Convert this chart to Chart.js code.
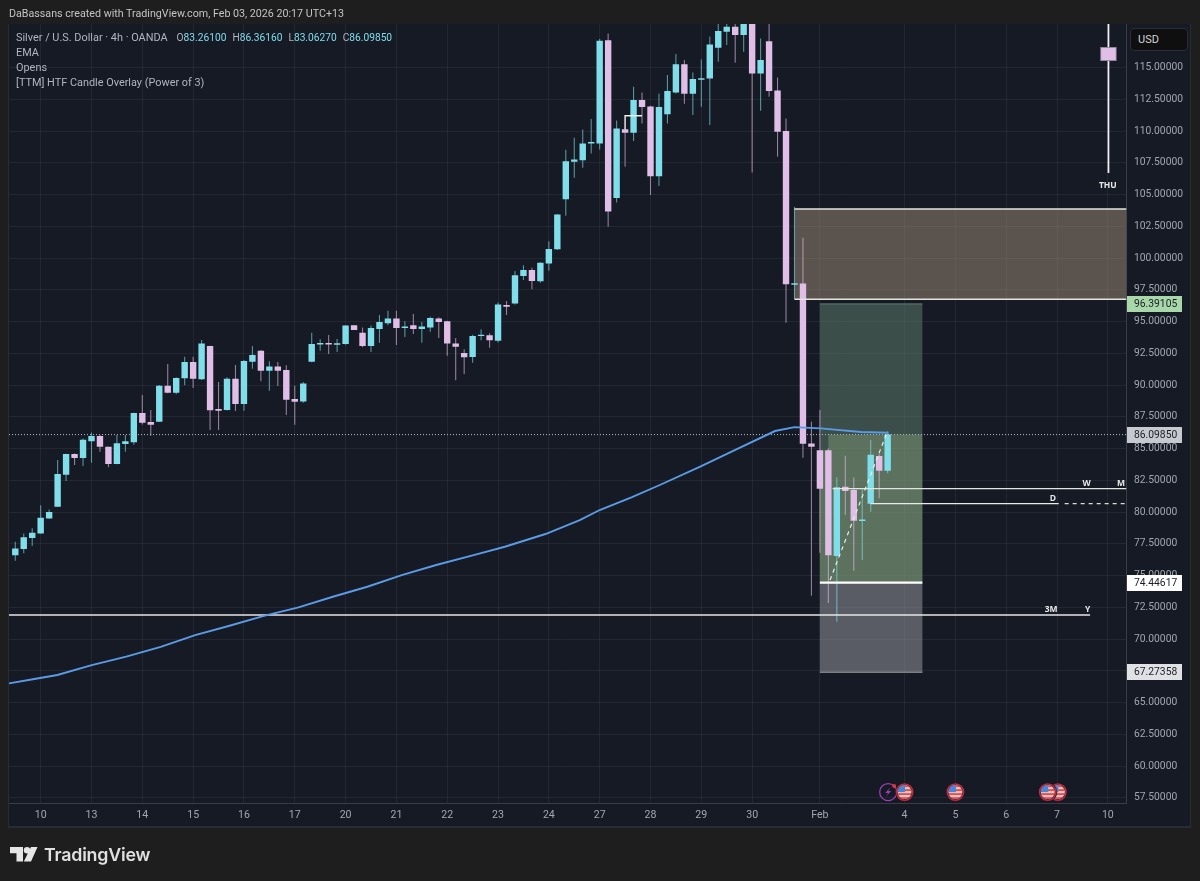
<!DOCTYPE html>
<html><head><meta charset="utf-8">
<style>
html,body{margin:0;padding:0;background:#1e1e1e;width:1200px;height:881px;overflow:hidden}
#wrap{position:relative;width:1200px;height:881px}
canvas{position:absolute;left:0;top:0}
.t{position:absolute;white-space:nowrap;font-family:Roboto,sans-serif;line-height:14px}
.leg{font-size:10.9px;color:#b2b5be;left:16px}
.leg b{font-weight:400;color:#80deea}
.leg span{font-size:10.2px;margin-left:6px}
.leg span.first{margin-left:9px}
#usd{position:absolute;left:1130px;top:28px;width:56px;height:21px;background:#0f0f0f;border:1px solid #2a2e39;border-radius:4px;box-sizing:content-box;color:#d1d4dc;font:11px Roboto,sans-serif;line-height:21px;text-indent:7px}
</style></head><body><div id="wrap">
<canvas id="c" width="1200" height="881"></canvas>
<div class="t" style="left:9px;top:7px;font-size:10.7px;color:#c4c4c4">DaBassans created with TradingView.com, Feb 03, 2026 20:17 UTC+13</div>
<div class="t leg" style="top:31px">Silver / U.S. Dollar · 4h · OANDA<span class="first">O<b>83.26100</b></span><span>H<b>86.36160</b></span><span>L<b>83.06270</b></span><span>C<b>86.09850</b></span></div>
<div class="t leg" style="top:46px">EMA</div>
<div class="t leg" style="top:61px">Opens</div>
<div class="t leg" style="top:76px">[TTM] HTF Candle Overlay (Power of 3)</div>
<div id="usd">USD</div>
<svg style="position:absolute;left:10px;top:847px" width="28" height="15" viewBox="0 0 28 15"><path fill="#e6e6e6" d="M0 0H13V14.5H6.5V6.2H0Z"/><circle fill="#e6e6e6" cx="17" cy="3.3" r="3.2"/><path fill="#e6e6e6" d="M21 0H27.5L21 14.5H13.8Z"/></svg>
<div class="t" style="left:44px;top:845px;font:600 17.8px/20px Inter,sans-serif;color:#e0e0e0;letter-spacing:-.2px">TradingView</div>
</div>
<script src="https://cdn.jsdelivr.net/npm/chart.js@4/dist/chart.umd.js"></script>
<script>
const candleOpen=[76.59,77.09,77.95,78.32,79.5,80.42,82.94,84.57,84.25,85.57,85.99,85.15,83.78,85.36,85.49,87.8,87.09,87.12,89.95,89.4,90.53,91.81,90.45,93.07,88.11,88.03,90.5,88.51,91.84,92.71,91.13,91.47,91.18,88.9,88.7,91.84,93.2,93.28,93.18,93.23,94.7,94.12,93.07,94.41,94.86,95.25,94.49,94.7,94.41,94.54,95.25,95.02,93.28,92.52,92.21,93.86,93.92,93.49,96.3,96.43,98.59,99.06,98.17,99.58,100.69,104.64,107.58,107.71,109.03,109.03,117.16,104.72,110.15,109.86,112.44,111.94,106.45,111.33,113.04,115.27,112.94,114.04,114.14,116.56,117.82,118.21,117.56,119.5,114.54,117.08,113.2,110,97.9,98,85.4,84.86,84.86,76.54,82,81.73,79.3,80.65,84.41,83.26];
const candleHigh=[77.67,78.32,78.72,80.53,80.21,84.1,84.6,84.62,85.8,86.27,86.06,85.15,86.06,86.06,87.82,89.21,88.03,90,91.66,90.61,92.23,92.23,93.55,93.1,90.24,90.61,91.58,91.97,93.07,92.76,91.87,91.81,91.55,89.95,90.25,94.12,93.6,93.94,93.62,94.7,94.7,94.54,94.68,95.51,95.86,95.86,95.02,95.59,94.96,95.38,95.33,95.07,93.7,92.81,93.97,94.39,94.07,96.51,96.62,98.98,99.43,99.24,99.66,101.32,103.44,108.53,109.47,110.13,110.94,117.24,117.69,110.84,110.2,113.49,113.04,111.99,112.96,114.41,116.06,115.59,114.62,115.64,117.45,118.8,118.8,118.6,119.2,119.8,117.29,118.9,114.22,110.99,104.02,101.6,87.11,88.03,85,82.73,84.44,82.73,81.8,85.67,84.6,86.36];
const candleLow=[76.17,76.75,77.32,78.32,79.48,80.4,82.44,83.7,83.62,83.89,84.75,83.52,83.76,84.75,85.3,86.9,86.01,87.09,89.35,89.27,89.98,89.77,90.4,86.46,86.46,88,87.95,87.98,91.29,90.29,89.56,89.92,87.64,86.88,88.6,91.79,92.71,92.44,92.6,93.18,94.33,92.97,92.6,93.34,94.7,93.15,93.78,94.02,93.34,94.2,93.7,92.31,90.37,90.87,91.76,93.52,92.94,93.36,95.51,96.35,98.27,97.54,98.06,99.01,100.63,103.33,106.32,107.11,108.24,108.55,102.46,104.38,107.19,109.21,110.6,104.96,105.67,110.6,112.96,112.15,111.26,111.91,110.47,115.46,116.77,115.38,116.24,106.74,111.6,112.7,107.98,94.91,96.77,84.28,73.41,76.8,72.83,71.36,79.76,75.38,76.22,80.03,81.08,83.06];
const candleClose=[77.12,78.01,78.37,79.56,80,82.99,84.57,84.25,85.7,85.99,85.15,83.78,85.41,85.57,87.8,87.04,86.88,89.95,89.4,90.55,91.81,90.5,93.28,88.01,87.98,90.5,88.51,91.89,92.36,91.13,91.47,91.13,88.85,88.69,90.13,93.23,93.28,93.2,93.28,94.68,94.33,93.07,94.49,94.96,95.25,94.49,94.62,94.41,94.62,95.28,94.96,93.28,93.02,92.18,93.86,93.97,93.52,96.35,96.17,98.64,99.06,98.19,99.63,100.71,103.42,107.63,107.77,109.03,109.13,117.11,103.67,110.21,109.86,112.44,111.89,106.45,111.89,113.15,115.27,112.94,114.09,114.14,116.82,117.87,118.21,117.56,118.9,114.54,115.59,113.15,109.94,97.93,98,85.38,85.14,81.84,76.59,81.95,81.65,79.32,79.4,84.52,83.25,86.1];
const emaIndex=[-0.74,2.25,4.97,9.03,13.1,17.17,21.24,25.3,29.36,33.44,37.5,41.57,45.63,49.7,54.45,57.8,62.6,66.65,69,72.75,76.1,80.87,84.95,89.7,92,95.1,99.85,103.1];
const emaValue=[66.51,66.85,67.17,67.95,68.61,69.39,70.31,71.05,71.83,72.5,73.33,74.12,75.04,75.83,76.67,77.27,78.27,79.37,80.16,81.16,82.13,83.57,84.88,86.38,86.69,86.59,86.3,86.24];
const xTickValues=[3,9,15,21,27,33,39,45,51,57,63,69,75,81,87,95,105,111,117,123,129];
const xTickLabels=['10','13','14','15','16','17','20','21','22','23','24','27','28','29','30','Feb','4','5','6','7','10'];
const xMin=-0.74,xMax=131.2,yMin=57.09,yMax=118.43;
const lastPrice=86.0985,targetPrice=96.39105,entryPrice=74.44617,stopPrice=67.27358,stopDrawn=67.38;
const lineLevels=[
 {from:xMin,to:xMax,y:[lastPrice,lastPrice],c:'#b8bcc4',w:1,d:[1,2]},
 {from:xMin,to:126.9,y:[71.89,71.89],c:'#e6e6e6',w:1.6},
 {from:96.5,to:xMax,y:[81.85,81.85],c:'#dfe6df',w:1.3},
 {from:101,to:123.2,y:[80.67,80.67],c:'#e6ece6',w:1.3},
 {from:123.9,to:xMax,y:[80.67,80.67],c:'#dcdcdc',w:1.2,d:[4,4]},
 {from:92,to:xMax,y:[103.86,103.86],c:'#e4e4de',w:1.5},
 {from:92,to:xMax,y:[96.75,96.75],c:'#e4e4de',w:1.5},
 {from:95,to:107.1,y:[entryPrice,entryPrice],c:'#ffffff',w:2.2},
 {from:95,to:107.1,y:[targetPrice,targetPrice],c:'#55675f',w:1.5},
 {from:95,to:107.1,y:[stopDrawn,stopDrawn],c:'#7d7f85',w:1.5},
 {from:96.2,to:102.9,y:[74.65,86.22],c:'#e8f0e8',w:1.2,d:[4,4]}
];
const zoneList=[
 {x0:92,x1:xMax,y0:96.75,y1:103.86,c:'rgba(150,132,112,.55)'},
 {x0:95,x1:107.1,y0:entryPrice,y1:targetPrice,c:'rgba(100,130,110,.5)'},
 {x0:95,x1:107.1,y0:entryPrice,y1:84.85,c:'rgba(140,170,130,.4)'},
 {x0:96,x1:107.1,y0:84.85,y1:lastPrice,c:'rgba(140,170,130,.4)'},
 {x0:95,x1:107.1,y0:stopDrawn,y1:entryPrice,c:'rgba(150,150,156,.54)'}
];
const stubIndex=[72,72,74],stubValue=[110.15,111.2,111.2];
const htfIndex=129.07,htfHigh=119,htfLow=106.72,htfTop=116.59,htfBottom=115.54;
const priceTags=[
 {v:targetPrice,at:targetPrice,bg:'#a8d8aa'},{v:lastPrice,at:lastPrice,bg:'#c6cad0'},{v:entryPrice,at:entryPrice,bg:'#ffffff'},{v:stopPrice,at:stopDrawn,bg:'#dfe1e4'}
];
const levelLabels=[['W',126.5,82.27],['M',130.55,82.27],['D',122.5,81.1],['3M',122.3,72.32],['Y',126.6,72.32],['THU',129,105.7]];
const eventIndex=[123.1,121.9,111,105];
const boltIndex=103.06,eventValue=57.95;

const up=i=>candleClose[i]>=candleOpen[i];
const teal='#80deea',pink='#e1bee7';
const colors=ctx=>up(ctx.dataIndex)?teal:pink;
const wickColors=ctx=>up(ctx.dataIndex)?'rgba(128,222,234,.62)':'rgba(225,190,231,.62)';
const idx=candleOpen.map((_,i)=>i);

const tickFont='10.3px Roboto,sans-serif';
const chrome={id:'chrome',
 beforeDraw(ch){const g=ch.ctx;g.save();g.fillStyle='#1e1e1e';g.fillRect(0,0,1200,881);
  g.fillStyle='#2a2c33';g.fillRect(8,24,1183,804);g.fillStyle='#151a25';g.fillRect(9,24,1181,802);g.restore();},
 beforeDatasetsDraw(ch){const g=ch.ctx,x=ch.scales.x,y=ch.scales.y,a=ch.chartArea;g.save();
  g.beginPath();g.rect(a.left,a.top,a.right-a.left,a.bottom-a.top);g.clip();
  zoneList.forEach(z=>{g.fillStyle=z.c;const X=x.getPixelForValue(z.x0),Y=y.getPixelForValue(z.y1);
   g.fillRect(X,Y,x.getPixelForValue(z.x1)-X,y.getPixelForValue(z.y0)-Y);});g.restore();},
 afterDatasetsDraw(ch){const g=ch.ctx,x=ch.scales.x,y=ch.scales.y;g.save();
  const ey=y.getPixelForValue(eventValue);
  const bx=x.getPixelForValue(boltIndex);
  g.strokeStyle='#9c3fb0';g.lineWidth=1.3;g.beginPath();g.arc(bx,ey,8.5,0,7);g.stroke();
  g.fillStyle='#9c3fb0';g.beginPath();g.moveTo(bx+2.5,ey-5);g.lineTo(bx-3,ey+1);g.lineTo(bx,ey+1);g.lineTo(bx-2.5,ey+5);g.lineTo(bx+3,ey-1);g.lineTo(bx,ey-1);g.closePath();g.fill();
  g.fillStyle='#e0344a';g.beginPath();g.arc(bx+6,ey-6,2,0,7);g.fill();
  eventIndex.forEach(i=>{const ex=x.getPixelForValue(i);
   g.save();g.fillStyle='#151a25';g.beginPath();g.arc(ex,ey,9.5,0,7);g.fill();
   g.beginPath();g.arc(ex,ey,7,0,7);g.clip();
   g.fillStyle='#e4c4c8';g.fillRect(ex-8,ey-8,16,16);
   g.fillStyle='#d9534f';[ -6,-2,2,6].forEach(d=>g.fillRect(ex-8,ey+d-0.9,16,1.9));
   g.fillStyle='#4a86d8';g.fillRect(ex-8,ey-8,8.5,8);g.restore();
   g.strokeStyle='#c22c42';g.lineWidth=1.5;g.beginPath();g.arc(ex,ey,8.2,0,7);g.stroke();});
  g.fillStyle='#e8e8e8';g.font='bold 8.5px "Open Sans",sans-serif';g.textAlign='center';g.textBaseline='middle';
  levelLabels.forEach(l=>g.fillText(l[0],x.getPixelForValue(l[1]),y.getPixelForValue(l[2])));
  g.font=tickFont;g.textAlign='left';
  priceTags.forEach(t=>{const p=y.getPixelForValue(t.at);g.fillStyle=t.bg;
   g.fillRect(x.right+.5,Math.round(p)-8,55,16);g.fillStyle='#1a1d24';g.fillText(t.v.toFixed(5),x.right+7.5,p+.5);});
  g.restore();}
};
const bars=(fn,th,o,col)=>({type:'bar',order:o,grouped:false,barThickness:th,minBarLength:1.4,borderWidth:0,borderSkipped:false,inflateAmount:0,backgroundColor:col,data:idx.map(fn)});
const datasets=[
 {type:'line',order:1,data:emaIndex.map((v,i)=>({x:v,y:emaValue[i]})),borderColor:'#5b9be6',borderWidth:1.9,pointRadius:0,tension:0},
 ...lineLevels.map((l,i)=>({type:'line',order:i===10?0:(i===0?8:2),data:[{x:l.from,y:l.y[0]},{x:l.to,y:l.y[1]}],borderColor:l.c,borderWidth:l.w,borderDash:l.d||[],pointRadius:0,tension:0})),
 {type:'line',order:2,data:stubIndex.map((v,i)=>({x:v,y:stubValue[i]})),borderColor:'#f0f0f0',borderWidth:1.4,pointRadius:0,tension:0},
 {type:'bar',order:5,grouped:false,barThickness:1.1,borderWidth:0,backgroundColor:'#f0f0f4',data:[{x:htfIndex,y:[htfLow,htfHigh]}]},
 {type:'bar',order:4,grouped:false,barThickness:16,borderWidth:1,borderColor:'#8f8a94',borderSkipped:false,backgroundColor:pink,data:[{x:htfIndex,y:[htfBottom,htfTop]}]},
 bars(i=>({x:i,y:[candleLow[i],candleHigh[i]]}),1.1,7,wickColors),
 bars(i=>({x:i,y:[Math.min(candleOpen[i],candleClose[i]),Math.max(candleOpen[i],candleClose[i])]}),6.4,6,colors)
];
new Chart(document.getElementById('c'),{
 type:'bar',data:{datasets},plugins:[chrome],
 options:{responsive:false,animation:false,devicePixelRatio:1,
  layout:{padding:{left:9,top:24,right:9,bottom:53}},
  plugins:{legend:{display:false},tooltip:{enabled:false},title:{display:false}},
  scales:{
   x:{type:'linear',offset:false,min:xMin,max:xMax,grid:{offset:false,color:'rgba(255,255,255,.06)',drawTicks:false},border:{color:'#3a3d46'},
    afterBuildTicks:s=>{s.ticks=xTickValues.map(v=>({value:v}));},
    afterFit:s=>{s.height=25;},
    ticks:{autoSkip:false,maxRotation:0,padding:6,color:'#a3a6ae',font:{family:'Roboto,sans-serif',size:10.6},callback:v=>xTickLabels[xTickValues.indexOf(v)]}},
   y:{type:'linear',position:'right',min:yMin,max:yMax,grid:{color:'rgba(255,255,255,.06)',drawTicks:false},border:{color:'#3a3d46'},
    afterBuildTicks:s=>{const t=[];for(let v=57.5;v<=115;v+=2.5)t.push({value:v});s.ticks=t;},
    afterFit:s=>{s.width=64.5;},
    ticks:{padding:7.5,color:'#a3a6ae',font:{family:'Roboto,sans-serif',size:10.3},callback:v=>v.toFixed(5)}}
  }}
});
</script></body></html>
